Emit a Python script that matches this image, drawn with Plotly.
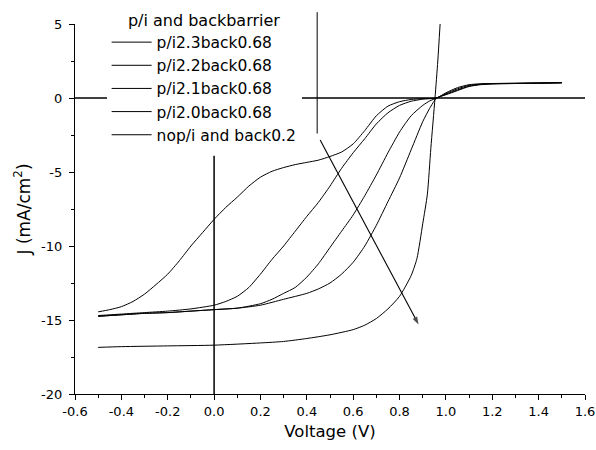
import plotly.graph_objects as go

# ---------------- data ----------------
series_names = ["p/i2.3back0.68", "p/i2.2back0.68", "p/i2.1back0.68",
                "p/i2.0back0.68", "nop/i and back0.2"]

v_23 = [-0.5, -0.45, -0.4, -0.35, -0.3, -0.25, -0.2, -0.15, -0.1, -0.05, 0.0, 0.05,
        0.1, 0.15, 0.2, 0.25, 0.3, 0.35, 0.4, 0.45, 0.5, 0.55, 0.6, 0.65, 0.7, 0.75,
        0.8, 0.85, 0.9, 0.96, 1.0, 1.05, 1.1, 1.15, 1.2, 1.3, 1.4, 1.5]
j_23 = [-14.45, -14.3, -14.1, -13.75, -13.25, -12.6, -11.9, -11.0, -10.0, -9.1, -8.2, -7.4,
        -6.7, -5.95, -5.35, -4.95, -4.7, -4.5, -4.35, -4.2, -3.95, -3.65, -3.1, -2.2, -1.2, -0.55,
        -0.25, -0.1, -0.04, 0.0, 0.35, 0.7, 0.9, 0.96, 0.98, 1.0, 1.02, 1.04]

v_22 = [-0.5, -0.4, -0.3, -0.2, -0.1, 0.0, 0.05, 0.1, 0.15, 0.2, 0.25, 0.3, 0.35, 0.4,
        0.45, 0.5, 0.55, 0.6, 0.65, 0.7, 0.75, 0.8, 0.85, 0.9, 0.96, 1.0, 1.05, 1.1,
        1.15, 1.2, 1.3, 1.4, 1.5]
j_22 = [-14.7, -14.6, -14.5, -14.4, -14.25, -14.0, -13.75, -13.4, -12.8, -11.9, -10.9, -10.0, -9.0, -8.0,
        -7.05, -5.95, -4.75, -3.7, -2.75, -1.75, -1.0, -0.5, -0.22, -0.08, 0.0, 0.3, 0.62, 0.85,
        0.94, 0.97, 0.99, 1.01, 1.03]

v_21 = [-0.5, -0.4, -0.3, -0.2, -0.1, 0.0, 0.1, 0.2, 0.25, 0.3, 0.35, 0.4, 0.45, 0.5,
        0.55, 0.6, 0.65, 0.7, 0.75, 0.8, 0.85, 0.9, 0.93, 0.96, 1.0, 1.05, 1.1, 1.15,
        1.2, 1.3, 1.4, 1.5]
j_21 = [-14.75, -14.65, -14.55, -14.5, -14.4, -14.3, -14.2, -13.9, -13.6, -13.2, -12.8, -12.1, -11.2, -10.1,
        -9.0, -7.9, -6.6, -5.2, -3.7, -2.3, -1.2, -0.5, -0.2, 0.0, 0.25, 0.55, 0.8, 0.92,
        0.96, 0.98, 1.0, 1.03]

v_20 = [-0.5, -0.4, -0.3, -0.2, -0.1, 0.0, 0.1, 0.2, 0.3, 0.4, 0.45, 0.5, 0.55, 0.6,
        0.65, 0.7, 0.75, 0.8, 0.85, 0.9, 0.93, 0.96, 1.0, 1.05, 1.1, 1.15, 1.2, 1.3,
        1.4, 1.5]
j_20 = [-14.75, -14.65, -14.55, -14.5, -14.4, -14.3, -14.2, -14.0, -13.6, -13.2, -12.9, -12.5, -11.9, -11.1,
        -10.0, -8.6, -7.0, -5.4, -3.5, -1.6, -0.7, 0.0, 0.22, 0.5, 0.78, 0.9, 0.95, 0.98,
        1.0, 1.03]

v_nop = [-0.5, -0.4, -0.2, 0.0, 0.2, 0.3, 0.4, 0.5, 0.6, 0.65, 0.7, 0.75, 0.8, 0.85,
         0.875, 0.9, 0.92, 0.935, 0.953, 0.965, 0.975]
j_nop = [-16.85, -16.8, -16.75, -16.7, -16.55, -16.45, -16.25, -16.0, -15.65, -15.35, -14.9, -14.25, -13.4, -12.0,
         -10.85, -8.5, -6.5, -3.4, 0.0, 2.5, 5.0]

x_tick_values = [-0.6, -0.4, -0.2, 0.0, 0.2, 0.4, 0.6, 0.8, 1.0, 1.2, 1.4, 1.6]
x_tick_labels = ["-0.6", "-0.4", "-0.2", "0.0", "0.2", "0.4", "0.6", "0.8", "1.0", "1.2", "1.4", "1.6"]
y_tick_values = [-20, -15, -10, -5, 0, 5]
y_tick_labels = ["-20", "-15", "-10", "-5", "0", "5"]

legend_title = "p/i and backbarrier"
x_title = "Voltage (V)"
y_title = "J (mA/cm<sup>2</sup>)"

# drawn guide lines / arrow of the original (data units)
arrow_x = [0.4575, 0.882]
arrow_y = [-2.84, -15.3]
marker_line_x = 0.4446
marker_line_y = [-2.4, 5.8]
origin_line_y = [-3.9, -20]

# ---------------- figure ----------------
X_RANGE = [-0.6, 1.6]
Y_RANGE = [-20, 5]
FONT = "DejaVu Sans"

fig = go.Figure()
voltages = [v_23, v_22, v_21, v_20, v_nop]
currents = [j_23, j_22, j_21, j_20, j_nop]
for name, xs, ys in zip(series_names, voltages, currents):
    fig.add_trace(go.Scatter(
        x=xs, y=ys, mode="lines", name=name,
        line=dict(color="black", width=1, shape="spline", smoothing=0.6),
    ))

# arrow (line + oriented arrow head)
fig.add_trace(go.Scatter(
    x=arrow_x, y=arrow_y, mode="lines+markers", showlegend=False, hoverinfo="skip",
    line=dict(color="black", width=1.1),
    marker=dict(symbol=["circle", "arrow"], size=[0, 8], angleref="previous",
                color="black", line=dict(width=0)),
))


def to_paper_x(v):
    return (v - X_RANGE[0]) / (X_RANGE[1] - X_RANGE[0])


def to_paper_y(v):
    return (v - Y_RANGE[0]) / (Y_RANGE[1] - Y_RANGE[0])


fig.add_shape(type="line", xref="x", yref="y", x0=X_RANGE[0], x1=X_RANGE[1], y0=0, y1=0,
              line=dict(color="black", width=1.5), layer="below")
fig.add_shape(type="line", xref="x", yref="y", x0=0, x1=0,
              y0=origin_line_y[0], y1=origin_line_y[1],
              line=dict(color="black", width=1.5))
fig.add_shape(type="line", xref="paper", yref="paper",
              x0=to_paper_x(marker_line_x), x1=to_paper_x(marker_line_x),
              y0=to_paper_y(marker_line_y[0]), y1=to_paper_y(marker_line_y[1]),
              line=dict(color="black", width=1))

axis_common = dict(
    showline=True, linecolor="black", linewidth=1.3, mirror=False,
    ticks="outside", ticklen=5, tickwidth=1.2, tickcolor="black",
    showgrid=False, zeroline=False, automargin=False,
    tickfont=dict(family=FONT, size=13, color="black"),
)

fig.update_layout(
    width=596, height=450,
    margin=dict(l=75, r=11, t=24, b=56, autoexpand=False),
    paper_bgcolor="white", plot_bgcolor="white",
    font=dict(family=FONT, size=13, color="black"),
    showlegend=True,
    legend=dict(
        x=0.062, y=1.052, xanchor="left", yanchor="top",
        bgcolor="white", borderwidth=0,
        font=dict(family=FONT, size=15.5, color="black"),
        title=dict(text=legend_title, side="top center", font=dict(family=FONT, size=16)),
        itemwidth=40, tracegroupgap=0,
    ),
    xaxis=dict(
        range=X_RANGE, tickmode="array", tickvals=x_tick_values, ticktext=x_tick_labels,
        minor=dict(tickmode="linear", tick0=-0.6, dtick=0.1, ticks="outside", ticklen=3,
                   tickwidth=1, tickcolor="black", showgrid=False),
        title=dict(text=x_title, font=dict(family=FONT, size=16.5), standoff=7),
        **axis_common,
    ),
    yaxis=dict(
        range=Y_RANGE, tickmode="array", tickvals=y_tick_values, ticktext=y_tick_labels,
        minor=dict(tickmode="linear", tick0=-20, dtick=2.5, ticks="outside", ticklen=3,
                   tickwidth=1, tickcolor="black", showgrid=False),
        title=dict(text=y_title, font=dict(family=FONT, size=17), standoff=6),
        ticklabelstandoff=4,
        **axis_common,
    ),
)

fig.write_html(
    "out.html",
    config={"displayModeBar": False},
    post_script="document.body.style.margin='0';document.body.style.overflow='hidden';",
)
